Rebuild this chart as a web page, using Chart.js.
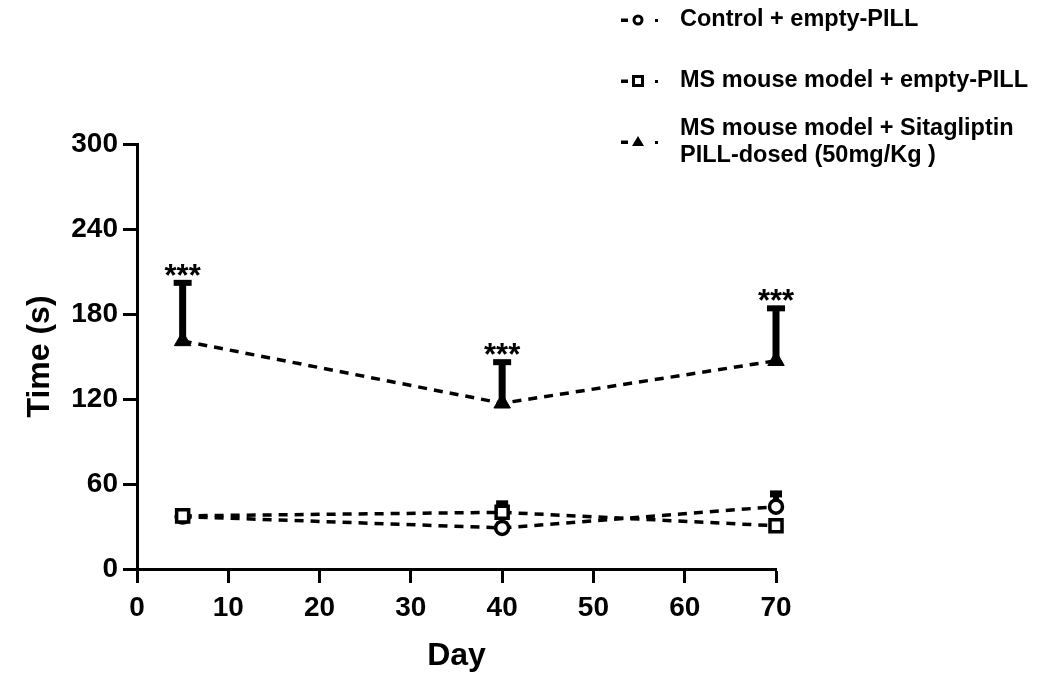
<!DOCTYPE html>
<html>
<head>
<meta charset="utf-8">
<script src="https://cdn.jsdelivr.net/npm/chart.js@4.4.1/dist/chart.umd.min.js"></script>
<style>
  html, body { margin: 0; padding: 0; background: #fff; }
  #wrap { width: 1040px; height: 673px; }
</style>
</head>
<body>
<div id="wrap"><canvas id="chart" width="1040" height="673"></canvas></div>
<script>
// values
const days = [5, 40, 70];
const xTicks = [0, 10, 20, 30, 40, 50, 60, 70];
const yTicks = [0, 60, 120, 180, 240, 300];

const controlMean = [37, 29, 44];
const controlSD = [3, 2, 9];
const msEmptyMean = [37.5, 40, 30.5];
const msEmptySD = [3, 6, 1];
const sitaMean = [161, 117, 147];
const sitaSD = [41, 29, 37];
const sitaStars = ['***', '***', '***'];

const legendLabels = [
  ['Control + empty-PILL'],
  ['MS mouse model + empty-PILL'],
  ['MS mouse model + Sitagliptin', 'PILL-dosed (50mg/Kg )']
];

const FONT = "'Liberation Sans', Arial, Helvetica, sans-serif";

function pts(mean) {
  return days.map((d, i) => ({ x: d, y: mean[i] }));
}

// error bars (drawn before the markers, so open markers cover the stem)
const errorBars = {
  id: 'errorBars',
  beforeDatasetsDraw(chart) {
    const { ctx, scales: { x, y } } = chart;
    chart.data.datasets.forEach(ds => {
      ctx.save();
      ctx.fillStyle = '#000';
      ds.data.forEach((p, i) => {
        const px = x.getPixelForValue(p.x);
        const py = y.getPixelForValue(p.y);
        const top = y.getPixelForValue(p.y + ds.sd[i]);
        const sw = ds.stemWidth, cw = ds.capWidth, ch = ds.capHeight;
        ctx.fillRect(px - sw / 2, top, sw, py - top);
        ctx.fillRect(px - cw / 2, top - ch / 2, cw, ch);
      });
      ctx.restore();
    });
  },
  afterDatasetsDraw(chart) {
    const { ctx, scales: { x, y } } = chart;
    chart.data.datasets.forEach(ds => {
      if (!ds.stars) return;
      ctx.save();
      ctx.fillStyle = '#000';
      ctx.font = 'bold 31px ' + FONT;
      ctx.textAlign = 'center';
      ctx.textBaseline = 'alphabetic';
      ds.data.forEach((p, i) => {
        const px = x.getPixelForValue(p.x);
        const top = y.getPixelForValue(p.y + ds.sd[i]);
        ctx.fillText(ds.stars[i], px, top + 3);
      });
      ctx.restore();
    });
  }
};

// legend in the top right corner
const sideLegend = {
  id: 'sideLegend',
  afterDraw(chart) {
    const ctx = chart.ctx;
    const rows = [20, 81, 142];
    const order = chart.data.datasets.slice().reverse();
    ctx.save();
    order.forEach((ds, k) => {
      const yy = rows[k];
      ctx.fillStyle = '#000';
      ctx.strokeStyle = '#000';
      ctx.fillRect(621, yy - 1.5, 7, 3.5);
      ctx.fillRect(655, yy - 1, 3, 3);
      ctx.lineWidth = 3;
      if (ds.pointStyle === 'circle') {
        ctx.beginPath();
        ctx.arc(638, yy, 4, 0, Math.PI * 2);
        ctx.stroke();
      } else if (ds.pointStyle === 'rect') {
        ctx.strokeRect(633.5, yy - 4.5, 9, 9);
      } else {
        ctx.beginPath();
        ctx.moveTo(638, yy - 6);
        ctx.lineTo(644, yy + 4);
        ctx.lineTo(632, yy + 4);
        ctx.closePath();
        ctx.fill();
      }
      const lines = legendLabels[k];
      ctx.font = 'bold 23.5px ' + FONT;
      ctx.textAlign = 'left';
      ctx.textBaseline = 'middle';
      const lh = 27;
      const y0 = yy - (lines.length - 1) * lh / 2;
      lines.forEach((t, j) => ctx.fillText(t, 680, y0 + j * lh));
    });
    ctx.restore();
  }
};

const common = {
  borderColor: '#000',
  borderWidth: 3.5,
  borderDash: [9, 7],
  pointBorderColor: '#000',
  pointBackgroundColor: '#fff',
  pointBorderWidth: 3.5,
  showLine: true,
  tension: 0,
  clip: false
};

new Chart(document.getElementById('chart'), {
  type: 'scatter',
  data: {
    datasets: [
      Object.assign({}, common, {
        label: legendLabels[2].join(' '),
        data: pts(sitaMean),
        sd: sitaSD,
        stars: sitaStars,
        pointStyle: 'triangle',
        pointRadius: 9.5,
        pointBackgroundColor: '#000',
        pointBorderWidth: 1,
        stemWidth: 7, capWidth: 18, capHeight: 6
      }),
      Object.assign({}, common, {
        label: legendLabels[1][0],
        data: pts(msEmptyMean),
        sd: msEmptySD,
        pointStyle: 'rect',
        pointRadius: 8.5,
        stemWidth: 6, capWidth: 12, capHeight: 7
      }),
      Object.assign({}, common, {
        label: legendLabels[0][0],
        data: pts(controlMean),
        sd: controlSD,
        pointStyle: 'circle',
        pointRadius: 6.5,
        stemWidth: 6, capWidth: 12, capHeight: 7
      })
    ]
  },
  options: {
    responsive: false,
    animation: false,
    events: [],
    layout: { padding: { top: 144, right: 264, bottom: 0, left: 0 } },
    plugins: { legend: { display: false }, tooltip: { enabled: false } },
    scales: {
      x: {
        type: 'linear',
        min: 0,
        max: 70,
        afterFit(s) { s.height = 104; },
        afterBuildTicks(s) { s.ticks = xTicks.map(v => ({ value: v })); },
        grid: { drawOnChartArea: false, drawTicks: true, tickLength: 14, tickWidth: 3, tickColor: '#000' },
        border: { display: true, color: '#000', width: 3 },
        ticks: { color: '#000', padding: 8, maxRotation: 0, font: { family: FONT, size: 28, weight: 'bold' } },
        title: { display: true, text: 'Day', color: '#000', padding: { top: 0, bottom: -2 }, font: { family: FONT, size: 32, weight: 'bold' } }
      },
      y: {
        type: 'linear',
        min: 0,
        max: 300,
        afterFit(s) { s.width = 137; },
        afterBuildTicks(s) { s.ticks = yTicks.map(v => ({ value: v })); },
        grid: { drawOnChartArea: false, drawTicks: true, tickLength: 14, tickWidth: 3, tickColor: '#000' },
        border: { display: true, color: '#000', width: 3 },
        ticks: { color: '#000', padding: 5, font: { family: FONT, size: 28, weight: 'bold' } },
        title: { display: true, text: 'Time (s)', color: '#000', padding: { top: 21, bottom: 0 }, font: { family: FONT, size: 32, weight: 'bold' } }
      }
    }
  },
  plugins: [errorBars, sideLegend]
});
</script>
</body>
</html>
